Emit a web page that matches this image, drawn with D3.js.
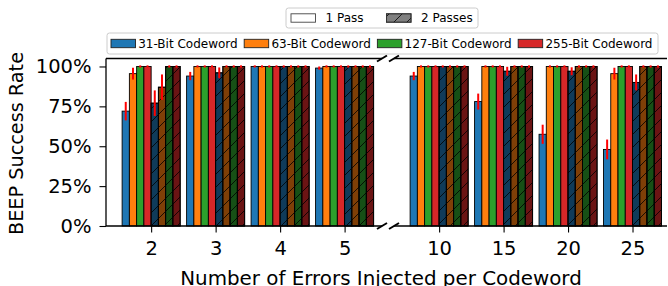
<!DOCTYPE html>
<html>
<head>
<meta charset="utf-8">
<script src="https://cdn.jsdelivr.net/npm/d3@7"></script>
<style>
  body { margin: 0; background: #fff; }
  svg text { font-family: "DejaVu Sans", sans-serif; fill: #000; }
</style>
</head>
<body>
<svg id="chart" width="668" height="286"></svg>
<script>
// chart data (success rate in %)
var categories = ["2", "3", "4", "5", "10", "15", "20", "25"];
var codewords = ["31-Bit Codeword", "63-Bit Codeword", "127-Bit Codeword", "255-Bit Codeword"];
var passes = ["1 Pass", "2 Passes"];
var yTicks = [0, 25, 50, 75, 100];

var pass1_31  = [72, 94, 100, 99, 94, 78, 57.5, 48];
var pass1_63  = [95.5, 100, 100, 100, 100, 100, 100, 95.5];
var pass1_127 = [100, 100, 100, 100, 100, 100, 100, 100];
var pass1_255 = [100, 100, 100, 100, 100, 100, 100, 100];
var pass2_31  = [77, 96, 100, 100, 100, 97, 97, 90];
var pass2_63  = [87, 100, 100, 100, 100, 100, 100, 100];
var pass2_127 = [100, 100, 100, 100, 100, 100, 100, 100];
var pass2_255 = [100, 100, 100, 100, 100, 100, 100, 100];

// half-width of the error bars
var err1_31  = [5.8, 2.6, 0.7, 1, 2.6, 5, 6, 6.2];
var err1_63  = [3.7, 0.7, 0.7, 0.7, 0.7, 0.7, 0.7, 3.7];
var err1_127 = [0.7, 0.7, 0.7, 0.7, 0.7, 0.7, 0.7, 0.7];
var err1_255 = [0.7, 0.7, 0.7, 0.7, 0.7, 0.7, 0.7, 0.7];
var err2_31  = [8, 3.4, 0.7, 0.7, 0.7, 2.8, 2.5, 5];
var err2_63  = [8, 0.7, 0.7, 0.7, 0.7, 0.7, 0.7, 0.7];
var err2_127 = [0.7, 0.7, 0.7, 0.7, 0.7, 0.7, 0.7, 0.7];
var err2_255 = [0.7, 0.7, 0.7, 0.7, 0.7, 0.7, 0.7, 0.7];

var colors1 = ["#1f77b4", "#ff7f0e", "#2ca02c", "#d62728"];
var colors2 = ["#0f3b5a", "#7f3f07", "#165016", "#6b1414"];

var series = [
    {vals: pass1_31, err: err1_31, color: colors1[0], hatch: false},
    {vals: pass1_63, err: err1_63, color: colors1[1], hatch: false},
    {vals: pass1_127, err: err1_127, color: colors1[2], hatch: false},
    {vals: pass1_255, err: err1_255, color: colors1[3], hatch: false},
    {vals: pass2_31, err: err2_31, color: colors2[0], hatch: true},
    {vals: pass2_63, err: err2_63, color: colors2[1], hatch: true},
    {vals: pass2_127, err: err2_127, color: colors2[2], hatch: true},
    {vals: pass2_255, err: err2_255, color: colors2[3], hatch: true}
];

var svg = d3.select("#chart");
var barW = 0.1125;

// scale a text's font so its length comes out at w pixels
function fitText(t, w) {
    var fs = parseFloat(t.style("font-size"));
    var len = t.node().getComputedTextLength();
    t.style("font-size", (fs * w / len).toFixed(2) + "px");
}

// hatch pattern
var defs = svg.append("defs");
var pat = defs.append("pattern").attr("id", "hatch")
    .attr("patternUnits", "userSpaceOnUse")
    .attr("width", 13).attr("height", 13);
pat.append("path").attr("d", "M0,13L13,0M-2,2L2,-2M11,15L15,11")
    .attr("stroke", "#000").attr("stroke-width", 0.8);

var y = d3.scaleLinear().domain([0, 105]).range([226, 58.5]);

var panels = [
    {cats: categories.slice(0, 4), offset: 0, x: d3.scaleLinear().domain([-0.7, 3.58]).range([106, 382])},
    {cats: categories.slice(4), offset: 4, x: d3.scaleLinear().domain([-0.7, 3.535]).range([394, 667])}
];

panels.forEach(function(p, pi) {
    var g = svg.append("g");
    var x = p.x;
    series.forEach(function(s, si) {
        var idx = d3.range(p.offset, p.offset + 4);
        var bx = function(i) { return x(i - p.offset + (si - 4) * barW); };
        var bw = x(barW) - x(0);
        g.selectAll(null).data(idx).enter().append("rect")
            .attr("x", bx).attr("width", bw)
            .attr("y", function(i) { return y(s.vals[i]); })
            .attr("height", function(i) { return y(0) - y(s.vals[i]); })
            .attr("fill", s.color)
            .attr("stroke", "#000").attr("stroke-width", 0.9);
        if (s.hatch) {
            g.selectAll(null).data(idx).enter().append("rect")
                .attr("x", bx).attr("width", bw)
                .attr("y", function(i) { return y(s.vals[i]); })
                .attr("height", function(i) { return y(0) - y(s.vals[i]); })
                .attr("fill", "url(#hatch)")
                .attr("stroke", "#000").attr("stroke-width", 0.9);
        }
        g.selectAll(null).data(idx).enter().append("line")
            .attr("x1", function(i) { return bx(i) + bw / 2; })
            .attr("x2", function(i) { return bx(i) + bw / 2; })
            .attr("y1", function(i) { return y(s.vals[i] - s.err[i]); })
            .attr("y2", function(i) { return y(s.vals[i] + s.err[i]); })
            .attr("stroke", "#ff0000").attr("stroke-width", 2);
    });

    // axes
    var xa = d3.axisBottom(x).tickValues([0, 1, 2, 3])
        .tickFormat(function(d) { return p.cats[d]; })
        .tickSize(6.5).tickPadding(9);
    var gx = svg.append("g").attr("transform", "translate(0,226)").call(xa);
    gx.select(".domain").remove();
    gx.selectAll("line").attr("stroke", "#000").attr("stroke-width", 1.1);
    gx.selectAll("text").style("font-size", "19.5px");

    // spines
    var x0 = x.range()[0], x1 = x.range()[1];
    svg.append("line").attr("x1", x0).attr("x2", x1).attr("y1", 226).attr("y2", 226)
        .attr("stroke", "#000").attr("stroke-width", 1.3);
    svg.append("line").attr("x1", x0).attr("x2", x1).attr("y1", 58.5).attr("y2", 58.5)
        .attr("stroke", "#000").attr("stroke-width", 1.3);
    if (pi == 0) {
        svg.append("line").attr("x1", x0).attr("x2", x0).attr("y1", 58.5).attr("y2", 226)
            .attr("stroke", "#000").attr("stroke-width", 1.3);
    }
});

// break marks
[382, 394].forEach(function(bx) {
    [58.5, 226].forEach(function(by) {
        svg.append("line")
            .attr("x1", bx - 5).attr("y1", by + 3)
            .attr("x2", bx + 5).attr("y2", by - 3)
            .attr("stroke", "#000").attr("stroke-width", 2);
    });
});

// y axis
var ya = d3.axisLeft(y).tickValues(yTicks)
    .tickFormat(function(d) { return d + "%"; })
    .tickSize(6.5).tickPadding(8);
var gy = svg.append("g").attr("transform", "translate(106,0)").call(ya);
gy.select(".domain").remove();
gy.selectAll("line").attr("stroke", "#000").attr("stroke-width", 1.1);
gy.selectAll("text").style("font-size", "19.5px");

var ylab = svg.append("text")
    .attr("transform", "translate(23,143.5) rotate(-90)")
    .attr("text-anchor", "middle")
    .style("font-size", "20px")
    .text("BEEP Success Rate");
fitText(ylab, 183);

var xlab = svg.append("text")
    .attr("x", 381).attr("y", 284.5)
    .attr("text-anchor", "middle")
    .style("font-size", "20px")
    .text("Number of Errors Injected per Codeword");
fitText(xlab, 402);

// legends
function legend(items, bx, by, bw, bh, padL, textGap, colGap) {
    var lg = svg.append("g");
    lg.append("rect").attr("x", bx).attr("y", by).attr("width", bw).attr("height", bh)
        .attr("rx", 2.5).attr("fill", "#fff").attr("fill-opacity", 0.8)
        .attr("stroke", "#cccccc").attr("stroke-width", 1);
    var cx = bx + padL, cy = by + bh / 2;
    items.forEach(function(it) {
        lg.append("rect").attr("x", cx).attr("y", cy - 4.2).attr("width", 24.5).attr("height", 8.4)
            .attr("fill", it.fill).attr("stroke", it.edge).attr("stroke-width", 0.9);
        if (it.hatch) {
            lg.append("rect").attr("x", cx).attr("y", cy - 4.2).attr("width", 24.5).attr("height", 8.4)
                .attr("fill", "url(#hatch)").attr("stroke", it.edge).attr("stroke-width", 0.9);
        }
        var t = lg.append("text").attr("x", cx + 24.5 + textGap).attr("y", cy + 4.3)
            .style("font-size", "12px").text(it.label);
        cx = cx + 24.5 + textGap + t.node().getComputedTextLength() + colGap;
    });
}

legend([
    {label: passes[0], fill: "#fff", edge: "#444", hatch: false},
    {label: passes[1], fill: "#808080", edge: "#333", hatch: true}
], 286, 8, 192, 20, 5, 10, 23);

legend(codewords.map(function(c, i) {
    return {label: c, fill: colors1[i], edge: "#222", hatch: false};
}), 107, 33, 551, 21, 4, 2.7, 6.5);
</script>
</body>
</html>
